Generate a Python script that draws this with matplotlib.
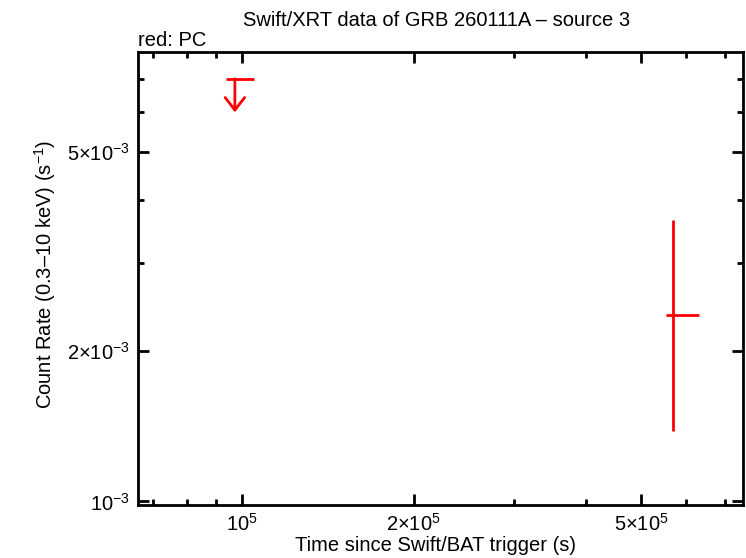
import matplotlib
matplotlib.use("Agg")
from matplotlib import pyplot as plt
from matplotlib.ticker import FixedLocator, NullFormatter

plt.rcParams['font.family'] = ['Liberation Sans', 'DejaVu Sans']
plt.rcParams['mathtext.fontset'] = 'custom'
plt.rcParams['mathtext.rm'] = 'Liberation Sans'
plt.rcParams['mathtext.it'] = 'Liberation Sans'

# PC detection
det_t = [569000]
det_t_lo = [552800]
det_t_hi = [631500]
det_rate = [2.357e-3]
det_rate_lo = [1.386e-3]
det_rate_hi = [3.66e-3]

# PC upper limit
ul_t = [97200]
ul_t_lo = [93750]
ul_t_hi = [104960]
ul_rate = [7.0e-3]
ul_arrow_end = [6.0e-3]

xticks = [1e5, 2e5, 5e5]
xtick_labels = [r'$10^{5}$', r'$2{\times}10^{5}$', r'$5{\times}10^{5}$']
yticks = [1e-3, 2e-3, 5e-3]
ytick_labels = [r'$10^{-3}$', r'$2{\times}10^{-3}$', r'$5{\times}10^{-3}$']

fig = plt.figure(figsize=(7.46, 5.58), dpi=100)
ax = fig.add_axes([138/746, 1 - 505/558, (743-138)/746, (505-52)/558])
ax.set_xscale('log')
ax.set_yscale('log')
ax.set_xlim(65770, 753800)
ax.set_ylim(0.000984, 7.92e-3)

xerr = [[t - lo for t, lo in zip(det_t, det_t_lo)], [hi - t for t, hi in zip(det_t, det_t_hi)]]
yerr = [[r - lo for r, lo in zip(det_rate, det_rate_lo)], [hi - r for r, hi in zip(det_rate, det_rate_hi)]]
ax.errorbar(det_t, det_rate, xerr=xerr, yerr=yerr, fmt='none', ecolor='red', elinewidth=2, capsize=0)

uxerr = [[t - lo for t, lo in zip(ul_t, ul_t_lo)], [hi - t for t, hi in zip(ul_t, ul_t_hi)]]
ax.errorbar(ul_t, ul_rate, xerr=uxerr, fmt='none', ecolor='red', elinewidth=2, capsize=0)
for t, r0, r1 in zip(ul_t, ul_rate, ul_arrow_end):
    ax.annotate('', xy=(t, r1), xytext=(t, r0),
                arrowprops=dict(arrowstyle='->,head_length=0.9,head_width=0.7', color='red', lw=2,
                                shrinkA=0, shrinkB=0))

ax.xaxis.set_major_locator(FixedLocator(xticks))
ax.set_xticklabels(xtick_labels)
ax.xaxis.set_minor_locator(FixedLocator([7e4, 8e4, 9e4, 3e5, 4e5, 6e5, 7e5]))
ax.xaxis.set_minor_formatter(NullFormatter())
ax.yaxis.set_major_locator(FixedLocator(yticks))
ax.set_yticklabels(ytick_labels)
ax.yaxis.set_minor_locator(FixedLocator([3e-3, 4e-3, 6e-3, 7e-3]))
ax.yaxis.set_minor_formatter(NullFormatter())

ax.tick_params(which='both', direction='in', top=True, right=True, width=2, labelsize=14.5)
ax.tick_params(which='major', length=8, pad=6)
ax.tick_params(which='minor', length=4)
for s in ax.spines.values():
    s.set_linewidth(2)

ax.set_xlabel('Time since Swift/BAT trigger (s)', fontsize=14.5)
ax.xaxis.set_label_coords(0.491, -0.0905)
ax.xaxis.label.set_va('center')
ax.set_ylabel('Count Rate (0.3\u201310 keV) (s$^{-1}$)', fontsize=14.5)
ax.yaxis.set_label_coords(-0.154, 0.51)
ax.yaxis.label.set_va('center')
fig.text(437/746, 1 - 20/558, 'Swift/XRT data of GRB 260111A \u2013 source 3', ha='center', va='center', fontsize=14.5)
fig.text(138/746, 1 - 41/558, 'red: PC', ha='left', va='center', fontsize=14.5)

fig.savefig('out.png', dpi=100)
